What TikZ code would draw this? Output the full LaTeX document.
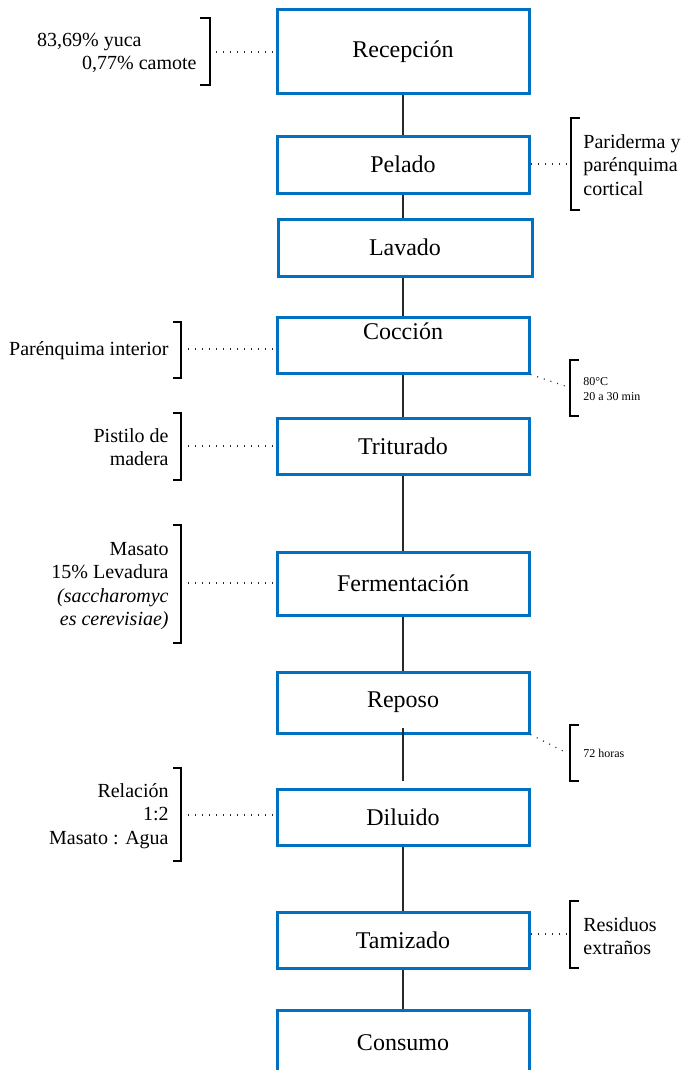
\documentclass[tikz,border=0pt]{standalone}
\usepackage{fontspec}
\setmainfont{Liberation Serif}
\usepackage{xcolor}
\definecolor{pblue}{RGB}{0,112,192}
\definecolor{plink}{RGB}{40,40,40}
\usepackage{tikz}
\usetikzlibrary{positioning,calc}
\tikzset{
  proc/.style={draw=pblue, line width=1.5pt, align=center, inner sep=0pt, minimum width=126pt, minimum height=28pt, font=\fontsize{12}{14}\selectfont},
  note/.style={inner sep=0pt, font=\fontsize{10}{11.6}\selectfont},
  lnote/.style={note, anchor=east, align=right},
  rnote/.style={note, anchor=west, align=left},
  tiny/.style={inner sep=0pt, anchor=west, align=left, font=\fontsize{6}{7.5}\selectfont},
  link/.style={draw=plink, line width=1pt},
  brk/.style={draw=black, line width=0.9pt},
  dots/.style={draw=plink, line width=0.6pt, dash pattern=on 0.5pt off 3pt}
}

\begin{document}
\begin{tikzpicture}[x=0.5pt, y=-0.5pt]
  \clip (0,0) rectangle (682,1070);
  % process chain
  \node[proc, minimum height=42pt] (recep) at (403,52) {Recepción};
  \node[proc, minimum height=28.5pt] (pel) at (403,164.5) {Pelado};
  \node[proc, minimum height=28.5pt, minimum width=127pt] (lav) at (405,247.5) {Lavado};
  \node[proc] (coc) at (403,345) {Cocción\\ \mbox{}};
  \node[proc] (trit) at (403,446) {Triturado};
  \node[proc, minimum height=31.5pt] (ferm) at (403,583.5) {Fermentación};
  \node[proc, minimum height=30.5pt] (rep) at (403,702.5) {Reposo};
  \node[proc] (dil) at (403,817) {Diluido};
  \node[proc] (tam) at (403,940) {Tamizado};
  \node[proc, minimum height=33pt] (cons) at (403,1043) {Consumo};
  \draw[link] (recep) -- (pel);
  \draw[link] (pel.south) -- (pel.south |- lav.north);
  \draw[link] (pel.south |- lav.south) -- (coc.north);
  \draw[link] (coc) -- (trit);
  \draw[link] (trit) -- (ferm);
  \draw[link] (ferm) -- (rep);
  \draw[link] ([yshift=3.5pt]rep.south) -- ([yshift=3.5pt]dil.north);
  \draw[link] (dil) -- (tam);
  \draw[link] (tam) -- (cons);

  % notes on the left
  \node[lnote] (nrecep) at (197,53) {83,69\% yuca\hspace*{27.5pt}\\0,77\% camote};
  \node[lnote] (nparen) at (169,351) {Parénquima interior};
  \node[lnote] (npist) at (169,447) {Pistilo de\\madera};
  \node[lnote] (nmas) at (169,586) {Masato\\15\% Levadura\\\textit{(saccharomyc}\\\textit{es cerevisiae)}};
  \node[lnote] (nrel) at (169,816) {Relación\\1:2\\Masato : Agua};
  \draw[brk] (200,18) -- (210,18) -- (210,85) -- (200,85);
  \draw[brk] (173,322) -- (181,322) -- (181,378) -- (173,378);
  \draw[brk] (173,413) -- (181,413) -- (181,480) -- (173,480);
  \draw[brk] (173,525) -- (181,525) -- (181,643) -- (173,643);
  \draw[brk] (173,768) -- (181,768) -- (181,861) -- (173,861);
  \coordinate (brecep) at (216,52);
  \coordinate (bparen) at (188,349);
  \coordinate (bpist) at (188,446);
  \coordinate (bmas) at (188,583);
  \coordinate (brel) at (188,815);
  \draw[dots] (brecep) -- (brecep -| recep.west);
  \draw[dots] (bparen) -- (bparen -| coc.west);
  \draw[dots] (bpist) -- (bpist -| trit.west);
  \draw[dots] (bmas) -- (bmas -| ferm.west);
  \draw[dots] (brel) -- (brel -| dil.west);

  % notes on the right
  \node[rnote] (nparid) at (583,165) {Pariderma y\\parénquima\\cortical};
  \node[tiny] (ncoc) at (583,389) {80°C\\20 a 30 min};
  \node[tiny] (nrep) at (583,753) {72 horas};
  \node[rnote] (nres) at (583,936) {Residuos\\extraños};
  \draw[brk] (580,118) -- (571,118) -- (571,210) -- (580,210);
  \draw[brk] (579,360) -- (570,360) -- (570,416) -- (579,416);
  \draw[brk] (579,725) -- (570,725) -- (570,781) -- (579,781);
  \draw[brk] (579,901) -- (570,901) -- (570,968) -- (579,968);
  \coordinate (bparid) at (567,164);
  \coordinate (bcoc) at (565,386);
  \coordinate (brep) at (565,752);
  \coordinate (bres) at (567,934);
  \draw[dots] (bparid) -- (bparid -| pel.east);
  \draw[dots] (coc.south east) -- (bcoc);
  \draw[dots] (rep.south east) -- (brep);
  \draw[dots] (bres) -- (bres -| tam.east);
\end{tikzpicture}
\end{document}
